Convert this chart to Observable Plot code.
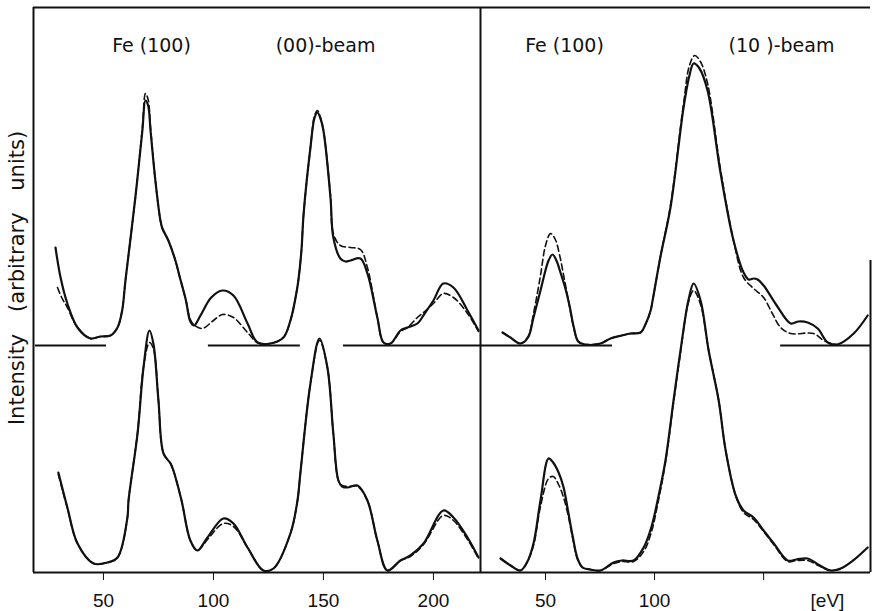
<!DOCTYPE html>
<html>
<head>
<meta charset="utf-8">
<script src="https://cdn.jsdelivr.net/npm/d3@7"></script>
<script src="https://cdn.jsdelivr.net/npm/@observablehq/plot@0.6"></script>
<style>
  html, body { margin: 0; padding: 0; background: #fff; }
  #chart { position: relative; width: 874px; height: 611px; overflow: hidden; }
  #chart svg { position: absolute; top: 0; background: transparent; }
</style>
</head>
<body>
<div id="chart"></div>
<script>
// ---------------- data (energy in eV, intensity in arbitrary units) ----------------
const yLabel = "Intensity (arbitrary units)";
const leftTitles = ["Fe (100)", "(00)-beam"];
const rightTitles = ["Fe (100)", "(10 )-beam"];
const leftTicks = [50, 100, 150, 200];
const rightTicks = [50, 100, 150];
const rightTickLabels = ["50", "100", ""];
const unitLabel = "[eV]";
const leftDomain = [18.2, 221.4];
const rightDomain = [20.2, 199];
const yDomain = [0, 565];
const topOffset = 227; // vertical offset of the upper curve pair

// zero lines of the upper curves (eV ranges)
const leftZeroSegments = [[19.1, 51.4], [97.7, 139.5], [159.1, 221.4]];
const rightZeroSegments = [[20.2, 80.7], [157.8, 199.1]];

// (00)-beam, upper pair
const leftTopSolid = [[28.2,98],[30.5,68],[33.6,42],[38.2,18],[44.1,7],[48.6,9],[53.2,10],[56.4,18],[58.5,35],[60,65],[64.5,148],[67.7,215],[69.1,245],[70.3,240],[71.4,215],[73.6,165],[75.9,125],[76.8,117],[79.5,105],[82.7,85],[84.5,70],[87.5,45],[89.5,24],[91.2,20],[94.1,30],[99,48],[104.1,55],[109.1,50],[115.5,22],[120,3],[125.9,2],[131.8,8],[135,25],[137.5,50],[138.6,65],[140,95],[141,132],[144.1,198],[146,228],[147.3,233],[148.5,228],[150,215],[153.2,148],[154.5,108],[157.7,87],[160,84],[162.3,85],[166.8,87],[170,72],[174.5,28],[177.3,3],[180.5,2],[185,15],[188.2,18],[192.7,22],[196,32],[200,45],[204.5,62],[209.1,58],[215.5,35],[220.5,15]];
const leftTopDashed = [[29.1,58],[31,48],[33.6,38],[38.2,18],[44.1,7],[48.6,9],[53.2,10],[56.4,18],[58.5,35],[60,65],[64.5,148],[67.7,218],[69.1,252],[70.3,246],[71.4,218],[73.6,165],[75.9,125],[76.8,117],[79.5,105],[82.7,85],[84.5,70],[87.5,45],[89.5,26],[91.5,20],[95,17],[100,25],[104.1,31],[109.1,28],[115.5,13],[120,3],[125.9,2],[131.8,8],[135,25],[137.5,50],[138.6,65],[140,95],[141,132],[144.1,198],[146,230],[147.3,235],[148.5,229],[150,215],[153.2,150],[154.5,112],[157.7,100],[162.3,98],[166.8,96],[170,78],[174.5,28],[177.3,3],[180.5,2],[185,14],[188.2,18],[192.7,28],[196,34],[200,42],[204.5,52],[209.1,48],[215.5,32],[220.5,14]];

// (00)-beam, lower pair
const leftBottomSolid = [[29.5,100],[33.6,65],[38.2,29],[45.5,9],[51.8,10],[56.4,15],[60.9,55],[61.4,72],[65.5,139],[68.2,205],[70.9,242],[72.7,229],[75,172],[77.3,119],[80.5,109],[81.8,102],[85.5,72],[89.5,32],[92.7,22],[97.3,35],[104.5,54],[109.1,49],[115.5,25],[122.7,2],[127.3,4],[135,39],[138.2,72],[139.5,99],[144.1,189],[148.2,234],[151.8,205],[154.5,139],[156.8,92],[158.5,86],[160.9,85],[165.5,87],[170,72],[174.5,32],[179.1,2],[185,12],[189.5,17],[195.5,29],[204.5,62],[209.1,55],[215.5,35],[220.5,15]];
const leftBottomDashed = [[29.5,98],[33.6,64],[38.2,29],[45.5,9],[51.8,10],[56.4,15],[60.9,55],[61.4,72],[65.5,140],[68.2,205],[70.9,230],[72.7,224],[75,172],[77.3,119],[80.5,109],[81.8,102],[85.5,72],[89.5,32],[92.7,22],[97.3,33],[104.5,49],[109.1,46],[115.5,25],[122.7,2],[127.3,4],[135,39],[138.2,72],[139.5,99],[144.1,189],[148.2,232],[151.8,205],[154.5,139],[156.8,92],[158.5,87],[160.9,86],[165.5,86],[170,72],[174.5,32],[179.1,2],[185,12],[189.5,16],[195.5,28],[204.5,57],[209.1,52],[215.5,33],[220.5,14]];

// (10)-beam, upper pair
const rightTopSolid = [[30.3,13],[33.9,8],[38.5,2],[42,8],[44.5,28],[47.7,55],[51.4,85],[53.2,91],[55,85],[57,72],[59,58],[61,40],[63,18],[65,4],[68,1],[75.2,2],[79.8,7],[85,10],[89,12],[93.6,13],[96,22],[98.2,35],[99.1,45],[102.8,90],[107.3,138],[113.3,238],[116,270],[117.9,282],[120.6,277],[124.3,255],[130.3,172],[136.2,105],[140.8,73],[143.1,66],[145.5,67],[147.2,66],[150,60],[156,40],[162.4,22],[166,24],[170.2,23],[174.8,17],[179.4,3],[183.9,1],[191.3,12],[197.7,30]];
const rightTopDashed = [[30.3,13],[33.9,8],[38.5,2],[42,9],[44.5,32],[47.7,70],[50,100],[52.3,112],[54.5,106],[56.5,90],[58.5,68],[60.5,45],[62.5,22],[64.5,6],[66,2],[68,1],[75.2,2],[79.8,7],[85,10],[89,12],[93.6,13],[96,22],[98.2,35],[99.1,45],[102.8,90],[107.3,140],[113.3,242],[116,280],[118.4,290],[121,284],[124.3,262],[130.3,175],[136.2,105],[140.8,68],[145.4,57],[150,48],[154,32],[157.8,18],[162.4,12],[172.9,12],[177.5,5],[181,2],[184,1]];

// (10)-beam, lower pair
const rightBottomSolid = [[29.4,14],[34,7],[38.5,2],[41.5,10],[44.5,29],[47.7,72],[51.4,114],[53.5,110],[56,100],[58.3,85],[60.3,62],[62.4,37],[64.7,14],[67,5],[70.6,3],[75.2,2],[81.2,10],[85,12],[90.4,12],[95,25],[98.5,45],[101.4,72],[105,112],[108.7,172],[111.9,222],[115.5,272],[117.9,289],[121.1,272],[124.8,222],[129.4,172],[132.6,122],[137.2,77],[140.8,62],[145.4,55],[150,42],[155,28],[161,12],[165,13],[170.2,14],[175,8],[180.7,2],[185.3,4],[191,12],[197.7,25]];
const rightBottomDashed = [[29.4,14],[34,7],[38.5,2],[41.5,10],[44.5,27],[47.7,66],[51.4,94],[53.5,96],[56,88],[58.3,75],[60.3,58],[62.4,35],[64.7,13],[67,5],[70.6,3],[75.2,2],[81.2,9],[85,11],[90.4,11],[95,21],[98.5,40],[101.4,68],[105,110],[108.7,170],[111.9,220],[115.5,270],[117.9,282],[121.1,268],[124.8,222],[129.4,172],[132.6,122],[137.2,77],[140.8,60],[145.4,53],[150,41],[155,27],[161,11],[165,12],[170.2,12],[175,7],[180.7,2],[185,3]];

// ---------------- drawing ----------------
const INK = "#111";
const solidW = 2.2, dashW = 1.6, frameW = 2;

function curveMarks(topSolid, topDashed, botSolid, botDashed) {
  const X = d => d[0];
  return [
    Plot.line(botDashed, {x: X, y: d => d[1], stroke: INK, strokeWidth: dashW, strokeDasharray: "6,3.5", curve: "catmull-rom"}),
    Plot.line(botSolid, {x: X, y: d => d[1], stroke: INK, strokeWidth: solidW, curve: "catmull-rom"}),
    Plot.line(topDashed, {x: X, y: d => d[1] + topOffset, stroke: INK, strokeWidth: dashW, strokeDasharray: "6,3.5", curve: "catmull-rom"}),
    Plot.line(topSolid, {x: X, y: d => d[1] + topOffset, stroke: INK, strokeWidth: solidW, curve: "catmull-rom"})
  ];
}

const common = {
  height: 611,
  marginTop: 7,
  marginBottom: 39,
  y: {domain: yDomain, axis: null},
  style: {fontFamily: "Liberation Sans, Arial, sans-serif", fontSize: "19px", color: INK, background: "transparent", overflow: "visible"}
};

const titleStyle = {fontFamily: "DejaVu Sans", fontSize: 19, fill: INK, lineAnchor: "bottom", textAnchor: "middle", frameAnchor: "top-left", dy: 44};

const left = Plot.plot({
  ...common,
  width: 481,
  marginLeft: 33,
  marginRight: 1,
  x: {domain: leftDomain, ticks: leftTicks, tickSize: 8, tickPadding: 13, tickFormat: d => String(d), label: null, line: false},
  marks: [
    Plot.ruleY(leftZeroSegments, {y: topOffset, x1: d => d[0], x2: d => d[1], stroke: INK, strokeWidth: frameW}),
    ...curveMarks(leftTopSolid, leftTopDashed, leftBottomSolid, leftBottomDashed),
    Plot.ruleY([yDomain[0]], {stroke: INK, strokeWidth: frameW}),
    Plot.ruleY([yDomain[1]], {stroke: INK, strokeWidth: frameW}),
    Plot.ruleX([leftDomain[0]], {stroke: INK, strokeWidth: frameW}),
    Plot.ruleX([leftDomain[1]], {stroke: INK, strokeWidth: frameW}),
    Plot.text([leftTitles[0]], {...titleStyle, text: d => d, dx: 118}),
    Plot.text([leftTitles[1]], {...titleStyle, text: d => d, dx: 292}),
    Plot.text([yLabel], {text: d => d, frameAnchor: "left", textAnchor: "middle", rotate: -90, dx: -16, dy: -12, fontFamily: "DejaVu Sans", fontSize: 21, fill: INK})
  ]
});

const right = Plot.plot({
  ...common,
  width: 394,
  marginLeft: 0,
  marginRight: 4,
  x: {domain: rightDomain, ticks: rightTicks, tickSize: 8, tickPadding: 13, tickFormat: d => rightTickLabels[rightTicks.indexOf(d)], label: null, line: false},
  marks: [
    Plot.ruleY(rightZeroSegments, {y: topOffset, x1: d => d[0], x2: d => d[1], stroke: INK, strokeWidth: frameW}),
    ...curveMarks(rightTopSolid, rightTopDashed, rightBottomSolid, rightBottomDashed),
    Plot.ruleY([yDomain[0]], {stroke: INK, strokeWidth: frameW}),
    Plot.ruleY([yDomain[1]], {stroke: INK, strokeWidth: frameW}),
    Plot.ruleX([rightDomain[1]], {y1: yDomain[0], y2: 312, stroke: INK, strokeWidth: frameW}),
    Plot.text([rightTitles[0]], {...titleStyle, text: d => d, dx: 84}),
    Plot.text([rightTitles[1]], {...titleStyle, text: d => d, dx: 301}),
    Plot.text([unitLabel], {text: d => d, frameAnchor: "bottom-right", textAnchor: "middle", dx: -43, dy: 21, lineAnchor: "top", fontFamily: "Liberation Sans", fontSize: 19, fill: INK})
  ]
});

left.style.left = "0px";
right.style.left = "480px";
const chart = document.getElementById("chart");
chart.appendChild(left);
chart.appendChild(right);

// widen word gaps of the rotated axis title like the original typesetting
d3.select(left).selectAll("text").filter(function() { return this.textContent === yLabel; })
  .style("word-spacing", "15px");
</script>
</body>
</html>
